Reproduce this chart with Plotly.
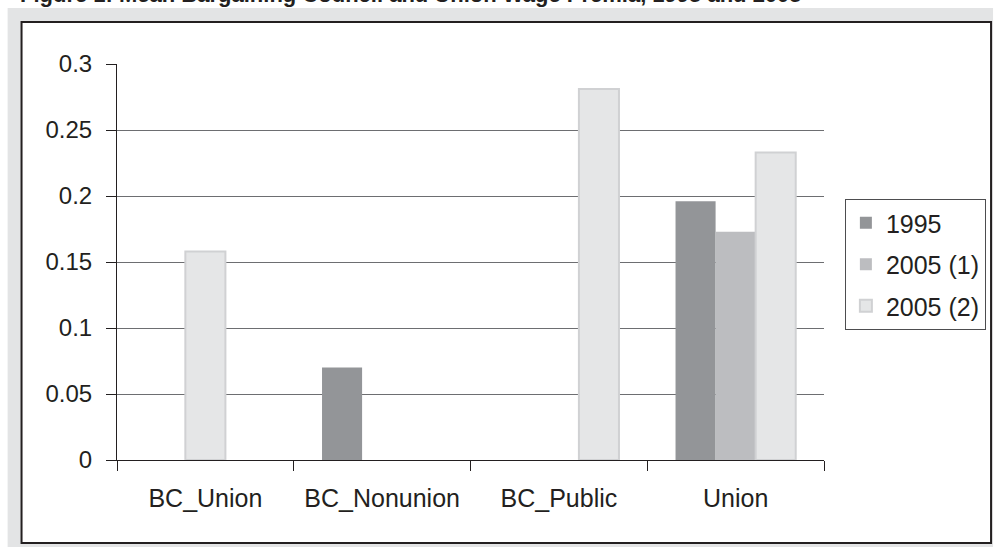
import plotly.graph_objects as go

categories = ["BC_Union", "BC_Nonunion", "BC_Public", "Union"]
series_names = ["1995", "2005 (1)", "2005 (2)"]
v1995 = [None, 0.070, None, 0.196]
v2005_1 = [None, None, None, 0.173]
v2005_2 = [0.158, None, 0.281, 0.233]
y_ticks = [0, 0.05, 0.1, 0.15, 0.2, 0.25, 0.3]
title_text = "Figure 1: Mean Bargaining Council and Union Wage Premia, 1995 and 2005"

W, H = 998, 551
L, R, T, B = 117, 170, 64, 91
PW, PH = W - L - R, H - T - B


def px_x(p):
    return (p - L) / PW


def px_y(p):
    return (H - B - p) / PH


FONT = "Liberation Sans, Arial, sans-serif"
INK = "#231f20"
bargap = 0.32
bw = (1 - bargap) / 3
start = -(1 - bargap) / 2

fig = go.Figure()
fig.add_trace(go.Bar(x=categories, y=v1995, name=series_names[0],
                     marker=dict(color="#939598", line=dict(width=0)),
                     width=bw, offset=start, legendgroup="a"))
fig.add_trace(go.Bar(x=categories, y=v2005_1, name=series_names[1],
                     marker=dict(color="#bcbdc0", line=dict(width=0)),
                     width=bw, offset=start + bw, legendgroup="b"))
fig.add_trace(go.Bar(x=categories, y=v2005_2, name=series_names[2],
                     marker=dict(color="#e5e6e7", line=dict(color="#d0d1d3", width=2)),
                     width=bw, offset=[start + bw, start + 2 * bw, start + 2 * bw, start + 2 * bw],
                     legendgroup="c"))

shapes = [
    dict(type="rect", xref="paper", yref="paper", layer="below",
         x0=px_x(7), x1=px_x(998), y0=px_y(547), y1=px_y(8),
         fillcolor="#e3e4e5", line=dict(width=0)),
    dict(type="rect", xref="paper", yref="paper", layer="below",
         x0=px_x(21), x1=px_x(996), y0=px_y(543), y1=px_y(22),
         fillcolor="white", line=dict(color=INK, width=2)),
]

fig.update_layout(
    width=W, height=H, autosize=False,
    margin=dict(l=L, r=R, t=T, b=B, pad=0),
    paper_bgcolor="white", plot_bgcolor="rgba(0,0,0,0)",
    barmode="overlay",
    font=dict(family=FONT, size=24, color=INK),
    shapes=shapes,
    showlegend=True,
    legend=dict(x=px_x(849), y=px_y(199), xanchor="left", yanchor="top",
                bordercolor="#4d4d4f", borderwidth=1, bgcolor="white",
                font=dict(family=FONT, size=25, color=INK),
                traceorder="grouped", tracegroupgap=6,
                itemwidth=30),
    annotations=[dict(text="<b>" + title_text + "</b>", xref="paper", yref="paper",
                      x=px_x(17), y=px_y(-6), xanchor="left", yanchor="middle",
                      showarrow=False, font=dict(family=FONT, size=22, color=INK))],
)

fig.update_xaxes(
    showline=True, linecolor=INK, linewidth=1,
    ticks="outside", tickson="boundaries", ticklen=10, tickcolor=INK,
    tickfont=dict(family=FONT, size=25, color=INK),
    ticklabelstandoff=16, showgrid=False, zeroline=False,
)
fig.update_yaxes(
    range=[0, 0.3], tickvals=y_ticks,
    showline=True, linecolor=INK, linewidth=1,
    ticks="outside", ticklen=10, tickcolor=INK,
    tickfont=dict(family=FONT, size=24, color=INK),
    ticklabelstandoff=9,
    showgrid=True, gridcolor="#6d6e71", gridwidth=1, zeroline=False,
)

fig.write_html("out.html", config={"displayModeBar": False},
               post_script="document.body.style.margin='0px';")
